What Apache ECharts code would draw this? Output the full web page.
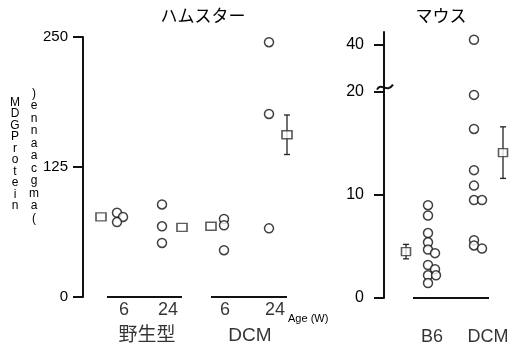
<!DOCTYPE html>
<html>
<head>
<meta charset="utf-8">
<script src="https://cdn.jsdelivr.net/npm/echarts@6/dist/echarts.min.js"></script>
<style>html,body{margin:0;background:#fff}#chart{width:517px;height:351px}</style>
</head>
<body>
<div id="chart"></div>
<script>
var chartDom = document.getElementById('chart');
var chart = echarts.init(chartDom, null, { renderer: 'canvas' });

var FONT = "'Liberation Sans', Arial, 'Noto Sans CJK JP', sans-serif";

// Hamster panel (x in slot units, y in arbitrary units)
var hamTicks = [0, 125, 250];
var hamCircleX = [3.4, 4.0, 3.4, 7.9, 7.9, 7.9, 14.1, 14.1, 14.1, 18.6, 18.6, 18.6];
var hamCircleY = [81, 77, 72, 89, 68, 52, 75, 69, 45, 245, 176, 66];
var hamMeanX = [1.8, 9.9, 12.8, 20.4];
var hamMean = [77, 67, 68, 156];
var hamLo = [77, 67, 68, 137];
var hamHi = [77, 67, 68, 175];
var hamAgeX = [4.1, 8.5, 14.2, 19.2];
var hamAgeLabels = ['6', '24', '6', '24'];
var hamGroupX = [6.4, 16.7];
var hamGroups = ['野生型', 'DCM'];
var hamBrackets = [[2.4, 9.9], [12.8, 20.4]];

// Mouse panel
var mouseTicks = [0, 10, 20, 40];
var mouseCircleX = [4.4, 4.4, 4.4, 4.4, 4.4, 5.1, 4.4, 5.1, 4.4, 5.2, 4.4,
                    9.0, 9.0, 9.0, 9.0, 9.0, 9.0, 9.8, 9.0, 9.0, 9.8];
var mouseCircleY = [9.0, 8.0, 6.3, 5.4, 4.7, 4.35, 3.2, 2.8, 2.2, 2.2, 1.45,
                    42, 19.7, 16.4, 12.4, 10.9, 9.5, 9.5, 5.6, 5.1, 4.8];
var mouseMeanX = [2.2, 11.9];
var mouseMean = [4.5, 14.1];
var mouseLo = [3.8, 11.6];
var mouseHi = [5.2, 16.6];
var mouseGroupX = [4.8, 10.4];
var mouseGroups = ['B6', 'DCM'];
var mouseBrackets = [[2.9, 10.5]];

// broken axis: above 20 is compressed
function brk(v) { return v <= 20 ? v : 20 + (v - 20) * 0.2295; }
function unbrk(v) { return v <= 20 ? v : 20 + (v - 20) / 0.2295; }

function pairs(xs, ys, f) { return xs.map(function (x, i) { return [x, f ? f(ys[i]) : ys[i]]; }); }

var circleStyle = { color: '#fff', borderColor: '#111', borderWidth: 1.5 };
var squareStyle = { color: '#fff', borderColor: '#333', borderWidth: 1.5 };

function errRender(params, api) {
    var x = api.value(0), lo = api.value(1), hi = api.value(2);
    if (hi - lo < 0.01) return null;
    var t = api.coord([x, hi]), b = api.coord([x, lo]);
    var st = { stroke: '#222', lineWidth: 1.3 };
    return { type: 'group', children: [
        { type: 'line', shape: { x1: t[0], y1: t[1], x2: b[0], y2: b[1] }, style: st },
        { type: 'line', shape: { x1: t[0] - 3, y1: t[1], x2: t[0] + 3, y2: t[1] }, style: st },
        { type: 'line', shape: { x1: b[0] - 3, y1: b[1], x2: b[0] + 3, y2: b[1] }, style: st }
    ] };
}

function textSeries(idx, xs, labels, dist, size) {
    return {
        type: 'scatter', xAxisIndex: idx, yAxisIndex: idx, symbolSize: 0, silent: true, z: 1,
        data: xs.map(function (x, i) { return [x, 0, labels[i]]; }),
        label: { show: true, position: 'bottom', distance: dist, color: '#000',
                 fontSize: size, fontFamily: FONT, formatter: function (p) { return p.data[2]; } }
    };
}

function bracketSeries(idx, br) {
    return br.map(function (b) {
        return { type: 'line', xAxisIndex: idx, yAxisIndex: idx, symbol: 'none', silent: true,
                 data: [[b[0], 0], [b[1], 0]], lineStyle: { color: '#111', width: 2 } };
    });
}

var series = [
    { type: 'scatter', xAxisIndex: 0, yAxisIndex: 0, symbol: 'circle', symbolSize: 9,
      data: pairs(hamCircleX, hamCircleY), itemStyle: circleStyle },
    { type: 'custom', xAxisIndex: 0, yAxisIndex: 0, renderItem: errRender,
      encode: { x: 0, y: [1, 2] },
      data: hamMeanX.map(function (x, i) { return [x, hamLo[i], hamHi[i]]; }) },
    { type: 'scatter', xAxisIndex: 0, yAxisIndex: 0, symbol: 'rect', symbolSize: [10, 8], z: 3,
      data: pairs(hamMeanX, hamMean), itemStyle: squareStyle },
    { type: 'scatter', xAxisIndex: 1, yAxisIndex: 1, symbol: 'circle', symbolSize: 9,
      data: pairs(mouseCircleX, mouseCircleY, brk), itemStyle: circleStyle },
    { type: 'custom', xAxisIndex: 1, yAxisIndex: 1, renderItem: errRender,
      encode: { x: 0, y: [1, 2] },
      data: mouseMeanX.map(function (x, i) { return [x, brk(mouseLo[i]), brk(mouseHi[i])]; }) },
    { type: 'scatter', xAxisIndex: 1, yAxisIndex: 1, symbol: 'rect', symbolSize: [9, 8], z: 3,
      data: pairs(mouseMeanX, mouseMean, brk), itemStyle: squareStyle },
    textSeries(0, hamAgeX, hamAgeLabels, 4, 18),
    textSeries(0, hamGroupX, hamGroups, 29, 19),
    textSeries(1, mouseGroupX, mouseGroups, 30, 18)
].concat(bracketSeries(0, hamBrackets), bracketSeries(1, mouseBrackets));

var axisLine = { show: true, lineStyle: { color: '#111', width: 2 } };
var axisTick = { show: true, length: 10, lineStyle: { color: '#111', width: 2 } };

var option = {
    animation: false,
    grid: [
        { left: 80, top: 37, width: 223, bottom: 54 },
        { left: 384, top: 32, width: 130, bottom: 53 }
    ],
    xAxis: [
        { type: 'value', gridIndex: 0, min: -0.3, max: 22, show: false },
        { type: 'value', gridIndex: 1, min: 0, max: 13, show: false }
    ],
    yAxis: [
        { type: 'value', gridIndex: 0, min: 0, max: 250, splitLine: { show: false },
          axisLine: axisLine, axisTick: Object.assign({ customValues: hamTicks }, axisTick),
          axisLabel: { customValues: hamTicks, color: '#000', fontSize: 15, fontFamily: FONT, margin: 12 } },
        { type: 'value', gridIndex: 1, min: 0, max: 25.8, splitLine: { show: false },
          axisLine: axisLine, axisTick: Object.assign({ customValues: mouseTicks.map(brk) }, axisTick),
          axisLabel: { customValues: mouseTicks.map(brk), color: '#000', fontSize: 16, fontFamily: FONT, margin: 20,
                       formatter: function (v) { return String(Math.round(unbrk(v))); } } }
    ],
    series: series
};
chart.setOption(option);

function txt(x, y, s, size, align) {
    return { type: 'text', x: x, y: y, silent: true,
             style: { text: s, font: size + 'px ' + FONT, fill: '#000',
                      textAlign: align || 'center', textVerticalAlign: 'middle' } };
}

var b20 = chart.convertToPixel({ gridIndex: 1 }, [0, 20.4]);
var yLab1 = 'MDGProtein'.split('').join('\n');
var yLab2 = [')', 'e', 'n', 'n', 'a', 'a', 'c', 'g', 'm', 'a', '('].join('\n');
chart.setOption({
    graphic: [
        txt(203, 17, 'ハムスター', 17),
        txt(441, 17, 'マウス', 17),
        txt(288, 319, 'Age (W)', 11, 'left'),
        { type: 'text', x: 15, y: 154, silent: true,
          style: { text: yLab1, font: '12px ' + FONT, fill: '#000', lineHeight: 11.5,
                   textAlign: 'center', textVerticalAlign: 'middle' } },
        { type: 'text', x: 34, y: 156, silent: true,
          style: { text: yLab2, font: '12px ' + FONT, fill: '#000', lineHeight: 12.5,
                   textAlign: 'center', textVerticalAlign: 'middle' } },
        { type: 'bezierCurve', silent: true, z: 100,
          shape: { x1: b20[0] - 7, y1: b20[1] + 2, cpx1: b20[0] - 3, cpy1: b20[1] - 6,
                   cpx2: b20[0] + 3, cpy2: b20[1] + 6, x2: b20[0] + 9, y2: b20[1] - 3 },
          style: { stroke: '#111', lineWidth: 2, fill: null } }
    ]
});

window.addEventListener('resize', function () { chart.resize(); });
</script>
</body>
</html>
